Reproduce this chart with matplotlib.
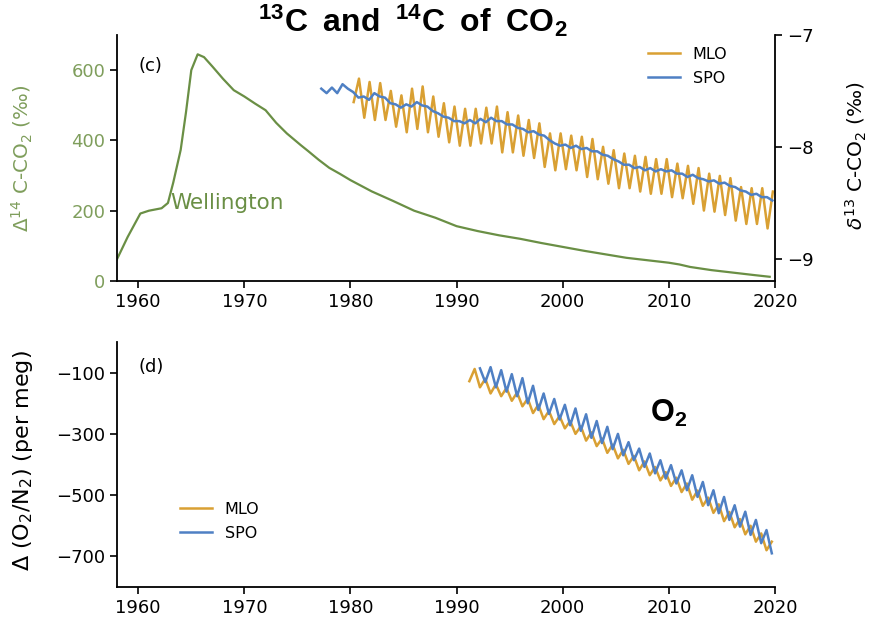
import matplotlib
matplotlib.use('Agg')
import matplotlib.pyplot as plt
import numpy as np

plt.rcParams['font.family'] = ['DejaVu Sans']
plt.rcParams['mathtext.fontset'] = 'custom'
plt.rcParams['mathtext.rm'] = 'DejaVu Sans'
plt.rcParams['mathtext.it'] = 'DejaVu Sans:italic'
plt.rcParams['mathtext.bf'] = 'Liberation Sans:bold'

# ---------------- data ----------------
# Wellington Delta14C (permil)
wel_years = [1958.0, 1959.0, 1960.2, 1961.0, 1962.2, 1962.8, 1963.3, 1964.0, 1964.5, 1965.0,
             1965.6, 1966.2, 1967.0, 1968.0, 1969.0, 1970.0, 1971.0, 1972.0, 1973.0, 1974.0,
             1975.3, 1976.0, 1977.0, 1978.0, 1979.0, 1980.0, 1982.0, 1984.0, 1986.0, 1988.0,
             1990.0, 1992.0, 1994.0, 1996.0, 1998.0, 2000.0, 2002.0, 2004.0, 2006.0, 2008.0,
             2010.0, 2011.0, 2012.0, 2014.0, 2016.0, 2018.0, 2019.5]
wel_d14c = [62, 125, 192, 200, 207, 222, 280, 373, 480, 600,
            645, 637, 610, 575, 543, 525, 505, 486, 450, 420,
            387, 370, 345, 322, 305, 287, 255, 228, 200, 180,
            156, 142, 130, 120, 108, 97, 86, 76, 66, 59,
            52, 47, 40, 31, 24, 17, 12]

# MLO delta13C: yearly maxima (late in year) and minima (early in year)
mlo_d13c_years = list(range(1980, 2020))
mlo_d13c_peak = [-7.39, -7.42, -7.43, -7.50, -7.54, -7.48, -7.46, -7.55, -7.61, -7.64,
                 -7.66, -7.66, -7.65, -7.64, -7.69, -7.72, -7.76, -7.79, -7.88, -7.88,
                 -7.90, -7.91, -7.93, -8.00, -8.03, -8.06, -8.08, -8.09, -8.11, -8.11,
                 -8.15, -8.17, -8.19, -8.24, -8.26, -8.28, -8.36, -8.37, -8.37, -8.40]
mlo_d13c_trough = [-7.60, -7.74, -7.76, -7.76, -7.82, -7.87, -7.84, -7.87, -7.91, -7.96,
                   -7.99, -7.99, -7.97, -7.97, -8.05, -8.05, -8.08, -8.10, -8.18, -8.21,
                   -8.20, -8.21, -8.27, -8.29, -8.33, -8.37, -8.37, -8.40, -8.42, -8.42,
                   -8.45, -8.46, -8.51, -8.57, -8.58, -8.61, -8.66, -8.69, -8.69, -8.73]

# SPO delta13C: small seasonal wiggle
spo_d13c_years = list(range(1977, 2020))
spo_d13c_hi = [-7.48, -7.47, -7.44, -7.51, -7.55, -7.52, -7.56, -7.62, -7.62, -7.60,
               -7.64, -7.70, -7.74, -7.77, -7.76, -7.75, -7.74, -7.77, -7.80, -7.84,
               -7.86, -7.90, -7.97, -7.98, -7.99, -8.01, -8.04, -8.08, -8.13, -8.16,
               -8.18, -8.19, -8.20, -8.21, -8.24, -8.25, -8.29, -8.30, -8.32, -8.36,
               -8.40, -8.42, -8.45]
spo_d13c_lo = [-7.52, -7.52, -7.48, -7.56, -7.58, -7.55, -7.61, -7.65, -7.64, -7.63,
               -7.68, -7.73, -7.77, -7.79, -7.79, -7.78, -7.77, -7.80, -7.83, -7.87,
               -7.89, -7.94, -7.99, -8.01, -8.02, -8.04, -8.07, -8.11, -8.16, -8.19,
               -8.21, -8.22, -8.22, -8.24, -8.27, -8.28, -8.31, -8.33, -8.35, -8.39,
               -8.43, -8.45, -8.48]

# O2/N2 (per meg)
mlo_o2_years = list(range(1991, 2020))
mlo_o2_trough = [-128, -148, -168, -177, -192, -210, -232, -252, -268, -282,
                 -300, -322, -340, -362, -380, -398, -419, -435, -452, -470,
                 -490, -515, -535, -558, -585, -605, -628, -652, -680]
mlo_o2_peak = [-88, -120, -138, -150, -165, -185, -205, -225, -242, -258,
               -275, -295, -315, -335, -352, -372, -390, -408, -425, -443,
               -462, -485, -508, -530, -555, -578, -600, -625, -652]

spo_o2_years = list(range(1992, 2020))
spo_o2_peak = [-86, -82, -92, -105, -118, -143, -168, -186, -205, -217,
               -236, -258, -277, -300, -327, -348, -364, -386, -402, -419,
               -435, -457, -484, -506, -533, -554, -581, -614]
spo_o2_trough = [-131, -148, -162, -177, -200, -222, -235, -253, -272, -290,
                 -313, -330, -350, -370, -386, -408, -429, -446, -462, -484,
                 -506, -533, -559, -581, -603, -630, -657, -690]

xticks = [1960, 1970, 1980, 1990, 2000, 2010, 2020]


def seasonal(years, first, first_phase, second, second_phase):
    t, v = [], []
    for y, a, b in zip(years, first, second):
        t += [y + first_phase, y + second_phase]
        v += [a, b]
    return np.array(t), np.array(v)


mlo_d13c_t, mlo_d13c_v = seasonal(mlo_d13c_years, mlo_d13c_trough, 0.3, mlo_d13c_peak, 0.8)
spo_d13c_t, spo_d13c_v = seasonal(spo_d13c_years, spo_d13c_hi, 0.25, spo_d13c_lo, 0.75)
mlo_o2_t, mlo_o2_v = seasonal(mlo_o2_years, mlo_o2_trough, 0.2, mlo_o2_peak, 0.7)
spo_o2_t, spo_o2_v = seasonal(spo_o2_years, spo_o2_peak, 0.2, spo_o2_trough, 0.7)

# ---------------- style ----------------
GREEN = '#6a8f45'
GREEN_T = '#7f9e5c'
GOLD = '#d9a033'
BLUE = '#4f80c4'
FS = 13

W, H = 869, 617
fig = plt.figure(figsize=(W / 100, H / 100), dpi=100)


def fbox(l, t, r, b):
    return [l / W, 1 - b / H, (r - l) / W, (b - t) / H]


ax1 = fig.add_axes(fbox(117, 35, 775, 281))
ax2 = ax1.twinx()
ax3 = fig.add_axes(fbox(117, 342, 775, 587))

# top panel
ax1.plot(wel_years, wel_d14c, color=GREEN, lw=1.6)
ax1.set_xlim(1958, 2020)
ax1.set_ylim(0, 700)
ax1.set_yticks([0, 200, 400, 600])
ax1.set_xticks(xticks)
ax1.tick_params(axis='y', colors='black', labelcolor=GREEN_T, labelsize=FS, length=5, width=1.2)
ax1.tick_params(axis='x', labelsize=FS, length=5, width=1.2)
ax1.set_ylabel('Δ$^{14}$ C-CO$_2$ (‰)', color=GREEN_T, fontsize=14.3)
ax1.yaxis.set_label_coords(-0.125, 0.5)
ax1.text(1963.0, 222, 'Wellington', color=GREEN, fontsize=15.5, va='center', ha='left')
ax1.text(0.032, 0.874, '(c)', transform=ax1.transAxes, fontsize=FS, va='center', ha='left')

l_mlo, = ax2.plot(mlo_d13c_t, mlo_d13c_v, color=GOLD, lw=1.8, label='MLO', zorder=2)
l_spo, = ax2.plot(spo_d13c_t, spo_d13c_v, color=BLUE, lw=1.8, label='SPO', zorder=3)
ax2.set_ylim(-9.2, -7)
ax2.set_yticks([-9, -8, -7])
ax2.tick_params(axis='y', labelsize=FS, length=5, width=1.2)
ax2.set_ylabel('$\\delta^{13}$ C-CO$_2$ (‰)', fontsize=14.5)
ax2.yaxis.set_label_coords(1.104, 0.51)
ax2.legend(handles=[l_mlo, l_spo], loc='upper left', bbox_to_anchor=(648 / W, 1 - 47 / H),
           bbox_transform=fig.transFigure, frameon=False, fontsize=11.5,
           borderpad=0, borderaxespad=0, handlelength=2.0, labelspacing=0.55)

ax1.spines['top'].set_visible(False)
ax2.spines['top'].set_visible(False)
ax1.spines['right'].set_visible(False)
ax2.spines['left'].set_visible(False)
ax2.spines['bottom'].set_visible(False)
for sp in ax1.spines.values():
    sp.set_linewidth(1.3)
for sp in ax2.spines.values():
    sp.set_linewidth(1.3)

# bottom panel
m3, = ax3.plot(mlo_o2_t, mlo_o2_v, color=GOLD, lw=1.8, label='MLO', zorder=2)
s3, = ax3.plot(spo_o2_t, spo_o2_v, color=BLUE, lw=1.8, label='SPO', zorder=3)
ax3.set_xlim(1958, 2020)
ax3.set_ylim(-800, 0)
ax3.set_yticks([-100, -300, -500, -700])
ax3.set_xticks(xticks)
ax3.tick_params(labelsize=FS, length=5, width=1.2)
ax3.set_ylabel('Δ (O$_2$/N$_2$) (per meg)', fontsize=16)
ax3.yaxis.set_label_coords(-0.125, 0.514)
ax3.spines['top'].set_visible(False)
ax3.spines['right'].set_visible(False)
for sp in ax3.spines.values():
    sp.set_linewidth(1.3)
ax3.text(0.032, 0.898, '(d)', transform=ax3.transAxes, fontsize=FS, va='center', ha='left')
ax3.legend(handles=[m3, s3], loc='upper left', bbox_to_anchor=(180 / W, 1 - 502 / H),
           bbox_transform=fig.transFigure, frameon=False, fontsize=11.5,
           borderpad=0, borderaxespad=0, handlelength=2.0, labelspacing=0.55)

# titles
fig.text(412.5 / W, 1 - 32 / H, r'$\mathbf{{}^{13}C\ \,and\ \,{}^{14}C\ \,of\ \,CO_2}$',
         fontsize=23, ha='center', va='baseline')
fig.text(650 / W, 1 - 422 / H, r'$\mathbf{O_2}$', fontsize=22, ha='left', va='baseline')

fig.savefig('out.png', dpi=100)
